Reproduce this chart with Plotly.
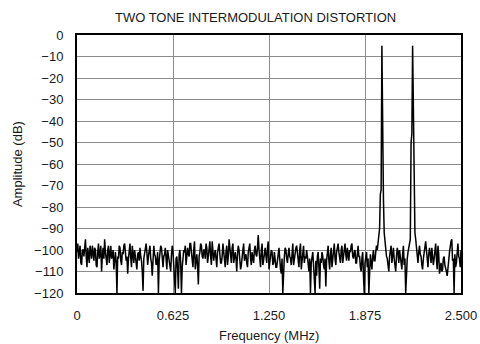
import numpy as np
import plotly.graph_objects as go

# FFT bins, 0 to 2.5 MHz in 5 kHz steps
freq_mhz = np.round(np.linspace(0, 2.5, 501), 3)

# amplitude in dB, one row per 0.1 MHz
amp_db = [
    -101, -97, -104, -99, -98, -106, -107, -100, -100, -103, -97, -95, -103, -108, -99, -102, -106, -98, -101, -104,
    -98, -103, -105, -99, -100, -107, -108, -101, -97, -104, -102, -98, -110, -103, -99, -104, -95, -101, -104, -107,
    -100, -98, -106, -102, -98, -104, -103, -100, -109, -105, -101, -106, -120, -103, -104, -98, -99, -105, -107, -101,
    -102, -98, -97, -101, -105, -103, -111, -104, -100, -97, -104, -108, -98, -102, -106, -100, -103, -108, -109, -102,
    -101, -105, -99, -103, -105, -110, -119, -104, -102, -98, -97, -101, -107, -103, -100, -98, -104, -106, -112, -103,
    -98, -102, -103, -107, -106, -101, -120, -105, -101, -98, -99, -104, -108, -103, -102, -99, -105, -109, -100, -103,
    -104, -108, -110, -102, -98, -101, -106, -112, -120, -104, -103, -109, -118, -102, -100, -106, -120, -108, -105, -100,
    -101, -98, -107, -103, -99, -102, -103, -97, -97, -101, -105, -108, -100, -96, -109, -104, -102, -107, -116, -103,
    -101, -97, -98, -103, -104, -100, -100, -104, -97, -99, -106, -103, -99, -96, -103, -107, -96, -100, -105, -102,
    -100, -104, -108, -101, -98, -97, -102, -106, -106, -103, -97, -101, -104, -108, -101, -98, -107, -103, -95, -100,
    -103, -106, -99, -97, -106, -103, -101, -104, -110, -102, -98, -100, -104, -109, -107, -101, -100, -97, -105, -103,
    -102, -106, -108, -101, -99, -97, -104, -107, -101, -103, -106, -100, -98, -102, -103, -99, -93, -100, -105, -108,
    -100, -97, -107, -103, -102, -99, -104, -106, -99, -96, -109, -104, -103, -100, -101, -107, -106, -101, -104, -108,
    -108, -103, -102, -99, -105, -109, -111, -104, -120, -106, -103, -99, -100, -104, -106, -102, -99, -103, -104, -107,
    -101, -97, -107, -104, -103, -99, -98, -102, -105, -108, -100, -97, -109, -105, -102, -98, -106, -103, -104, -100,
    -103, -107, -110, -104, -120, -106, -104, -101, -107, -112, -120, -105, -112, -103, -101, -108, -118, -104, -106, -101,
    -103, -107, -109, -104, -117, -105, -100, -98, -105, -109, -102, -99, -108, -103, -99, -97, -104, -107, -101, -98,
    -97, -101, -103, -106, -100, -98, -106, -102, -98, -97, -102, -105, -99, -103, -105, -100, -101, -98, -97, -103,
    -104, -101, -100, -106, -106, -102, -98, -103, -103, -108, -110, -104, -101, -112, -120, -106, -104, -101, -108, -104,
    -120, -111, -102, -106, -109, -103, -100, -105, -105, -101, -98, -100, -96, -94, -90, -74, -72, -5, -72, -76,
    -92, -96, -97, -103, -104, -108, -110, -103, -101, -98, -106, -102, -99, -104, -108, -110, -103, -99, -101, -106,
    -100, -103, -105, -109, -102, -98, -107, -104, -120, -108, -104, -101, -99, -97, -95, -50, -46, -5, -46, -52,
    -92, -95, -100, -104, -106, -101, -98, -102, -103, -107, -109, -104, -101, -98, -96, -100, -105, -108, -102, -99,
    -102, -106, -99, -103, -107, -104, -100, -97, -104, -109, -98, -102, -111, -108, -106, -110, -109, -104, -103, -107,
    -108, -110, -112, -106, -105, -101, -98, -96, -95, -105, -104, -120, -102, -108, -106, -99, -97, -103, -104, -108,
    -100,
]

x_ticks = [0, 0.625, 1.25, 1.875, 2.5]
x_tick_text = ["0", "0.625", "1.250", "1.875", "2.500"]
y_ticks = list(range(0, -121, -10))

FONT = "Liberation Sans, Arial, sans-serif"

fig = go.Figure(go.Scatter(x=freq_mhz, y=amp_db, mode="lines",
                           line=dict(color="black", width=1.5),
                           showlegend=False, hoverinfo="skip"))

fig.update_layout(
    width=480, height=344,
    margin=dict(l=77, r=19, t=35, b=51),
    paper_bgcolor="white", plot_bgcolor="white",
    font=dict(family=FONT, size=13, color="#1a1a1a"),
    title=dict(text="TWO TONE INTERMODULATION DISTORTION", xref="paper", x=0.465,
               xanchor="center", yref="container", y=0.95, yanchor="middle",
               font=dict(size=13)),
)

fig.update_xaxes(range=[0, 2.5], tickvals=x_ticks, ticktext=x_tick_text,
                 showgrid=True, gridcolor="#8c8c8c", gridwidth=1,
                 showline=True, mirror=True, linecolor="black", linewidth=2,
                 ticks="", ticklabelstandoff=9, zeroline=False, automargin=False)
fig.update_yaxes(range=[-120, 0], tickvals=y_ticks,
                 showgrid=True, gridcolor="#8c8c8c", gridwidth=1,
                 showline=True, mirror=True, linecolor="black", linewidth=2,
                 ticks="", ticklabelstandoff=9, zeroline=False, automargin=False)

fig.add_annotation(text="Amplitude (dB)", xref="paper", yref="paper",
                   x=-0.156, y=0.5, textangle=-90, showarrow=False,
                   xanchor="center", yanchor="middle")
fig.add_annotation(text="Frequency (MHz)", xref="paper", yref="paper",
                   x=0.5, y=-0.163, showarrow=False,
                   xanchor="center", yanchor="middle")

# drop the page's default body margin so the figure sits at the top-left corner
fig.write_html("out.html", config={"displayModeBar": False},
               post_script="document.body.style.margin='0';document.body.style.overflow='hidden';")
